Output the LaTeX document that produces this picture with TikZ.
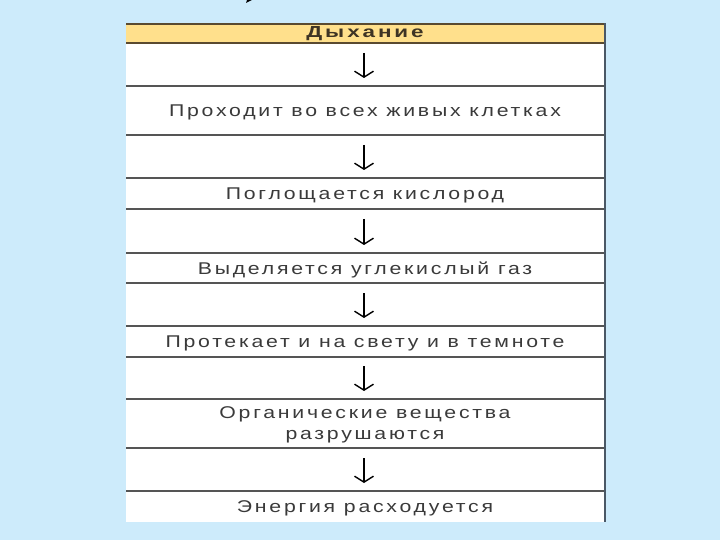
\documentclass[tikz,border=0pt]{standalone}
\usepackage{fontspec}
\usepackage{graphicx}
\setmainfont{Liberation Sans}
\usetikzlibrary{arrows.meta}
\definecolor{bg}{HTML}{CDEBFB}
\definecolor{hdr}{HTML}{FFE08C}
\definecolor{txt}{HTML}{3A3A3A}
\definecolor{rulec}{HTML}{555555}
\definecolor{framec}{HTML}{4A5866}
\definecolor{topc}{HTML}{5A4A30}
\definecolor{hdrtxt}{HTML}{3E3424}
\newcommand{\wdx}[1]{\scalebox{1.25}[1]{#1}}
\newcommand{\wdh}[1]{\scalebox{1.4}[1]{#1}}
\tikzset{
  rowtext/.style={text=txt, font=\fontsize{17}{21}\selectfont\addfontfeature{LetterSpace=13}, align=center, inner sep=0pt},
  hdrtext/.style={text=hdrtxt, font=\fontsize{16}{16}\selectfont\bfseries\addfontfeature{LetterSpace=13}, inner sep=0pt},
  rowline/.style={draw=rulec, line width=1.4pt},
  arr/.style={draw=black, line width=1.4pt, -{Straight Barb[width=19pt,length=6pt,line width=1.4pt]}}
}
\begin{document}
\begin{tikzpicture}[x=1pt,y=-1pt]
\useasboundingbox (0,0) rectangle (720,540);
\fill[bg] (0,0) rectangle (720,540);
% stray mark at top
\fill[black] (246,3) -- (252,0) -- (247,0) -- cycle;
% table body
\fill[white] (126,43) rectangle (605,522);
\fill[hdr] (126,24) rectangle (605,43);
\draw[topc, line width=1.6pt] (126,24) -- (605,24);
\draw[topc, line width=1.4pt] (126,43) -- (605,43);
% row separators
\foreach \yy in {86,135,178,209,253,283,326,357,399,448,491}
  \draw[rowline] (126,\yy) -- (605,\yy);
% right frame
\draw[framec, line width=2pt] (605,23.2) -- (605,522);
% header
\node[hdrtext] (h) at (365,34) {\wdh{Дыхание}};
% texts
\node[rowtext] (t1) at (365,112) {\wdx{Проходит во всех живых клетках}};
\node[rowtext] (t2) at (365,195) {\wdx{Поглощается кислород}};
\node[rowtext] (t3) at (365,269.5) {\wdx{Выделяется углекислый газ}};
\node[rowtext] (t4) at (365,343) {\wdx{Протекает и на свету и в темноте}};
\node[rowtext] (t5) at (365,425) {\wdx{Органические вещества}\\\wdx{разрушаются}};
\node[rowtext] (t6) at (365,508) {\wdx{Энергия расходуется}};
% arrows
\coordinate (a1s) at (364,53); \coordinate (a1e) at (364,78);
\coordinate (a2s) at (364,145); \coordinate (a2e) at (364,170);
\coordinate (a3s) at (364,219); \coordinate (a3e) at (364,245);
\coordinate (a4s) at (364,293); \coordinate (a4e) at (364,318);
\coordinate (a5s) at (364,366); \coordinate (a5e) at (364,391);
\coordinate (a6s) at (364,458); \coordinate (a6e) at (364,483);
\draw[arr] (a1s) -- (a1e);
\draw[arr] (a2s) -- (a2e);
\draw[arr] (a3s) -- (a3e);
\draw[arr] (a4s) -- (a4e);
\draw[arr] (a5s) -- (a5e);
\draw[arr] (a6s) -- (a6e);
\end{tikzpicture}
\end{document}
